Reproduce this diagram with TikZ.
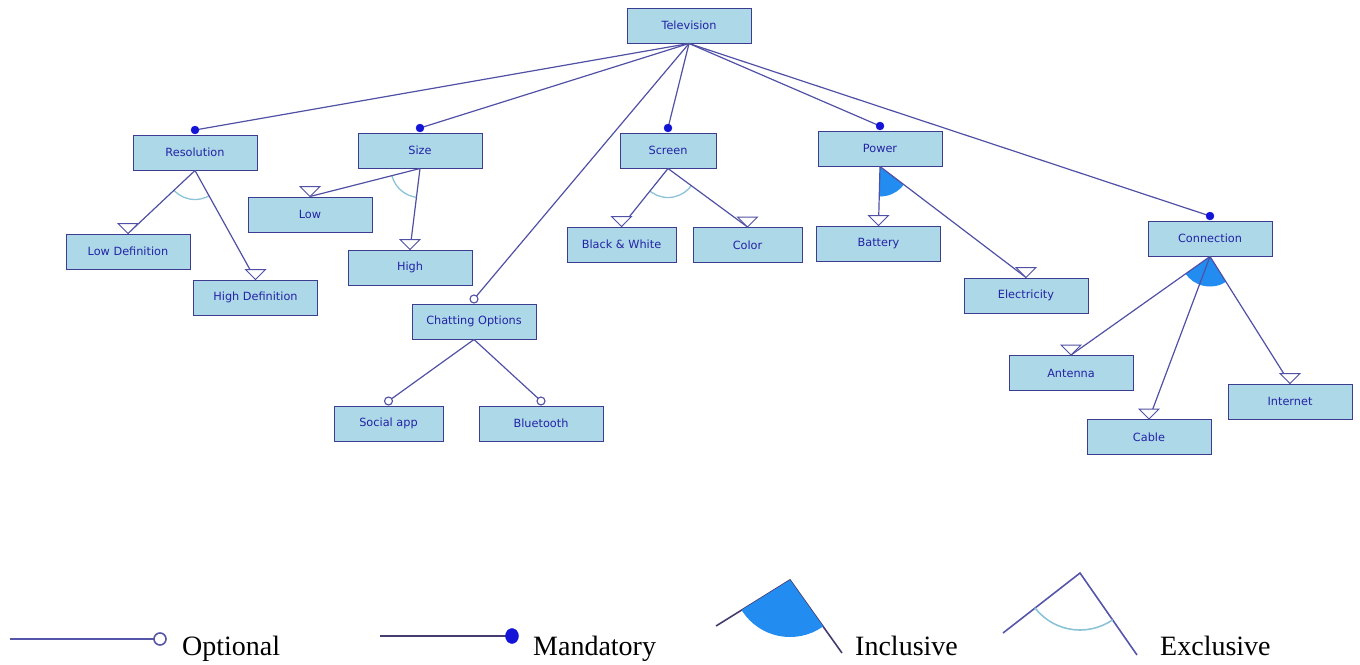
\documentclass[tikz,border=0pt]{standalone}
\usepackage{fontspec}
\setmainfont{Liberation Serif}
\newfontfamily\boxfont{DejaVu Sans}
\usetikzlibrary{calc}
\definecolor{boxfill}{RGB}{173,216,232}
\definecolor{boxdraw}{RGB}{60,60,145}
\definecolor{boxtext}{RGB}{35,35,165}
\definecolor{linkcol}{RGB}{80,80,165}
\definecolor{dotcol}{RGB}{20,20,215}
\definecolor{inclcol}{RGB}{35,140,240}
\definecolor{exclcol}{RGB}{140,195,215}
\definecolor{legline}{RGB}{85,85,170}
\definecolor{legline2}{RGB}{70,60,110}
\tikzset{
  feat/.style={rectangle, draw=boxdraw, fill=boxfill, line width=1pt,
    minimum width=124pt, minimum height=35pt, inner sep=0pt,
    text=boxtext, font=\boxfont\fontsize{11.3}{13}\selectfont},
  narrow/.style={minimum width=109pt},
  link/.style={draw=linkcol, line width=1.2pt},
  mandot/.style={fill=dotcol, draw=dotcol},
  optdot/.style={fill=white, draw=linkcol, line width=1.1pt},
  tri/.style={draw=linkcol, fill=white, line width=1pt},
  inclfill/.style={fill=inclcol},
  exclarc/.style={draw=exclcol, line width=1.3pt},
  legtext/.style={font=\fontsize{28}{30}\selectfont, anchor=base west, inner sep=0pt}
}
\newcommand{\alttri}[1]{\draw[tri] (#1.north) -- ++(-10,-10) -- ++(20,0) -- cycle;}
\begin{document}
\begin{tikzpicture}[x=1pt,y=-1pt]
\useasboundingbox (0,0) rectangle (1360,664);
% nodes
\node[feat] (tv) at (689,25.5) {Television};
\node[feat] (res) at (195,152.5) {Resolution};
\node[feat] (size) at (420,150.5) {Size};
\node[feat,minimum width=96pt] (scr) at (668,150.5) {Screen};
\node[feat] (pow) at (880,148.5) {Power};
\node[feat] (con) at (1210,238.5) {Connection};
\node[feat] (lowd) at (128,251.5) {Low Definition};
\node[feat] (highd) at (255.5,297.5) {High Definition};
\node[feat] (low) at (310,214.5) {Low};
\node[feat] (high) at (410,267.5) {High};
\node[feat] (chat) at (474,321.5) {Chatting Options};
\node[feat,narrow] (soc) at (388.5,423.5) {Social app};
\node[feat] (blue) at (541,423.5) {Bluetooth};
\node[feat,narrow] (bw) at (621.5,244.5) {Black \& White};
\node[feat,narrow] (col) at (747.5,245) {Color};
\node[feat] (bat) at (878.5,243.5) {Battery};
\node[feat] (ele) at (1026,295.5) {Electricity};
\node[feat] (ant) at (1071,373) {Antenna};
\node[feat] (cab) at (1149,437) {Cable};
\node[feat] (int) at (1290,401.5) {Internet};

% dot coordinates
\foreach \n in {res,size,scr,pow,con,chat,soc,blue}{
  \coordinate (\n-d) at ($(\n.north)+(0,-4.5)$);
}
% mandatory / optional links from Television
\foreach \n in {res,size,scr,pow,con}{
  \draw[link] (tv.south) -- (\n-d);
  \fill[mandot] (\n-d) circle (4pt);
}
\draw[link] (tv.south) -- (chat-d);
\draw[optdot] (chat-d) circle (4pt);
\foreach \n in {soc,blue}{
  \draw[link] (chat.south) -- (\n-d);
  \draw[optdot] (\n-d) circle (4pt);
}

% group sectors
\begin{scope}
  \clip (res.south) -- ($(res.south)!4!(lowd.north)$) -- ($(res.south)!4!(highd.north)$) -- cycle;
  \draw[exclarc] (res.south) circle (29pt);
\end{scope}
\begin{scope}
  \clip (size.south) -- ($(size.south)!4!(low.north)$) -- ($(size.south)!4!(high.north)$) -- cycle;
  \draw[exclarc] (size.south) circle (29pt);
\end{scope}
\begin{scope}
  \clip (scr.south) -- ($(scr.south)!4!(bw.north)$) -- ($(scr.south)!4!(col.north)$) -- cycle;
  \draw[exclarc] (scr.south) circle (29pt);
\end{scope}
\begin{scope}
  \clip (pow.south) -- ($(pow.south)!4!(bat.north)$) -- ($(pow.south)!4!(ele.north)$) -- cycle;
  \fill[inclfill] (pow.south) circle (30pt);
\end{scope}
\begin{scope}
  \clip (con.south) -- ($(con.south)!4!(ant.north)$) -- ($(con.south)!4!(int.north)$) -- cycle;
  \fill[inclfill] (con.south) circle (30pt);
\end{scope}

% group links
\foreach \p/\c in {res/lowd,res/highd,size/low,size/high,scr/bw,scr/col,pow/bat,pow/ele,con/ant,con/cab,con/int}{
  \draw[link] (\p.south) -- (\c.north);
  \alttri{\c}
}

% legend
\coordinate (o1) at (10,639);
\coordinate (o2) at (160,639);
\draw[draw=legline, line width=2pt] (o1) -- ($(o2)+(-6.5,0)$);
\draw[draw=legline, fill=white, line width=1.6pt] (o2) circle (6pt);
\node[legtext] (lopt) at (182,655) {Optional};

\coordinate (m1) at (380,636);
\coordinate (m2) at (512,636);
\draw[draw=legline2, line width=1.6pt] (m1) -- (m2);
\fill[mandot] (m2) ellipse (6.5pt and 7.5pt);
\node[legtext] (lman) at (533,655) {Mandatory};

\coordinate (ia) at (790,580);
\coordinate (il) at (716,626);
\coordinate (ir) at (842,653);
\draw[draw=legline2, line width=1.6pt] (il) -- (ia) -- (ir);
\begin{scope}
  \clip (ia) -- ($(ia)!3!(il)$) -- ($(ia)!3!(ir)$) -- cycle;
  \fill[inclfill] (ia) circle (57pt);
\end{scope}
\node[legtext] (linc) at (855,655) {Inclusive};

\coordinate (ea) at (1080,573);
\coordinate (el) at (1003,633);
\coordinate (er) at (1137,655);
\draw[draw=legline, line width=1.6pt] (el) -- (ea) -- (er);
\begin{scope}
  \clip (ea) -- ($(ea)!3!(el)$) -- ($(ea)!3!(er)$) -- cycle;
  \draw[exclarc, line width=1.6pt] (ea) circle (57pt);
\end{scope}
\node[legtext] (lexc) at (1160,655) {Exclusive};
\end{tikzpicture}
\end{document}
